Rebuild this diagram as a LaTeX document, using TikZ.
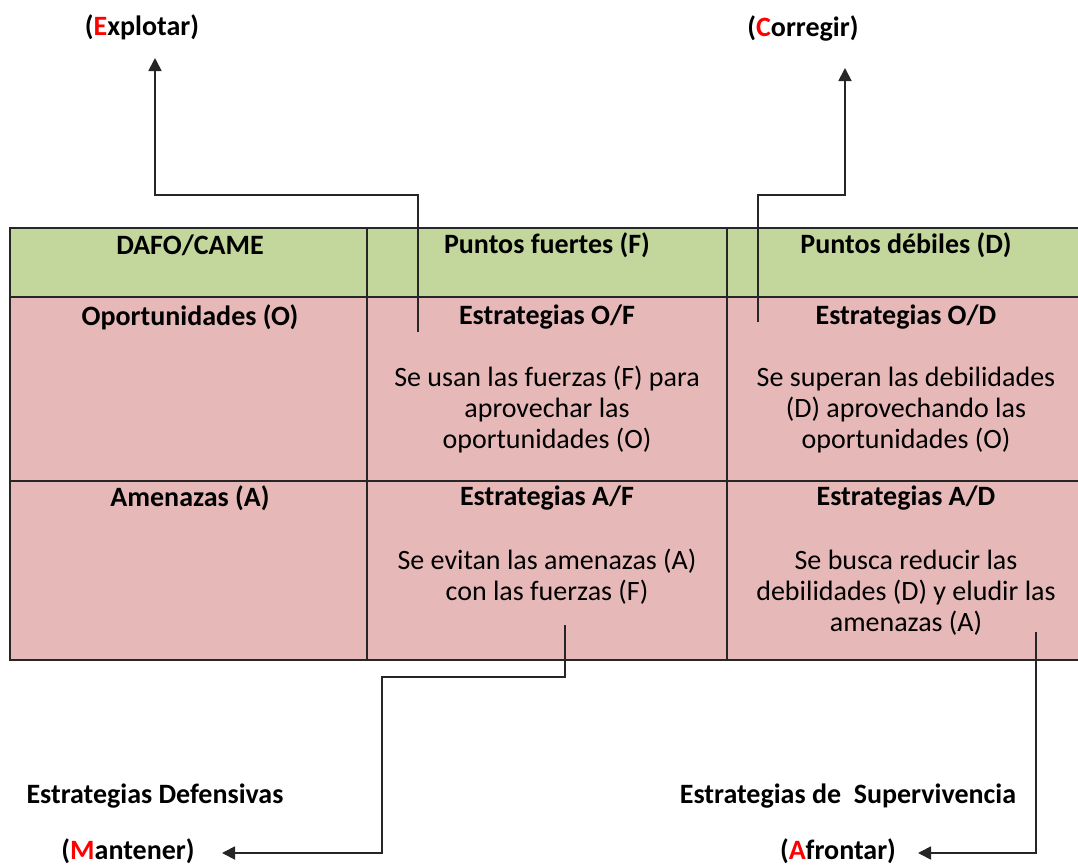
\documentclass[tikz,border=0pt]{standalone}
\usepackage{fontspec}
\setmainfont{Carlito}
\usetikzlibrary{arrows.meta,positioning}
\definecolor{hdrgreen}{HTML}{C3D69B}
\definecolor{cellpink}{HTML}{E6B8B7}
\definecolor{edge}{HTML}{262626}

\begin{document}
\begin{tikzpicture}[x=0.5pt,y=-0.5pt,
  cell/.style={font=\fontsize{14}{15.5}\selectfont,align=center,inner sep=0pt},
  head/.style={cell,font=\fontsize{14}{15.5}\selectfont\bfseries},
  lnk/.style={draw=edge,line width=0.9pt,-{Triangle[length=6.5pt,width=6.5pt]}}]
\useasboundingbox (0,0) rectangle (1078,867);
\fill[hdrgreen] (10,228) rectangle (1090,297);
\fill[cellpink] (10,297) rectangle (1090,660);
\draw[edge,line width=1pt] (10,228) rectangle (1090,660);
\foreach \y in {297,481} \draw[edge,line width=1pt] (10,\y) -- (1090,\y);
\foreach \x in {367,727} \draw[edge,line width=1pt] (\x,228) -- (\x,660);
\node[head] (dafo) at (190,245) {DAFO/CAME};
\node[head] (pf) at (547,245) {Puntos fuertes (F)};
\node[head] (pd) at (906,245) {Puntos débiles (D)};
\node[head] (opo) at (190,317) {Oportunidades (O)};
\node[head] (ame) at (190,498) {Amenazas (A)};
\node[head] (eof) at (547,317) {Estrategias O/F};
\node[head] (eod) at (906,317) {Estrategias O/D};
\node[head] (eaf) at (547,498) {Estrategias A/F};
\node[head] (ead) at (906,498) {Estrategias A/D};
\node[cell] (tof) at (547,410) {Se usan las fuerzas (F) para\\aprovechar las\\oportunidades (O)};
\node[cell] (tod) at (906,410) {Se superan las debilidades\\(D) aprovechando las\\oportunidades (O)};
\node[cell] (taf) at (547,577) {Se evitan las amenazas (A)\\con las fuerzas (F)};
\node[cell] (tad) at (906,593) {Se busca reducir las\\debilidades (D) y eludir las\\amenazas (A)};
\node[head] (explotar) at (142,27) {(\textcolor{red}{E}xplotar)};
\node[head] (corregir) at (803,28) {(\textcolor{red}{C}orregir)};
\node[head] (defens) at (155,796) {Estrategias Defensivas};
\node[head] (mantener) at (128,851) {(\textcolor{red}{M}antener)};
\node[head] (superv) at (848,796) {Estrategias de\ \ Supervivencia};
\node[head] (afrontar) at (838,851) {(\textcolor{red}{A}frontar)};
\coordinate (sOF) at (418,332);
\coordinate (kE) at (155,195);
\coordinate (tE) at (155,58);
\coordinate (sOD) at (758,322);
\coordinate (kC) at (845,195);
\coordinate (tC) at (845,68);
\coordinate (sAF) at (565,625);
\coordinate (kM) at (382,677);
\coordinate (tM) at (222,853);
\coordinate (sAD) at (1036,632);
\coordinate (tA) at (918,853);
\draw[lnk] (sOF) |- (kE) -- (tE);
\draw[lnk] (sOD) |- (kC) -- (tC);
\draw[lnk] (sAF) |- (kM) |- (tM);
\draw[lnk] (sAD) |- (tA);
\end{tikzpicture}
\end{document}
